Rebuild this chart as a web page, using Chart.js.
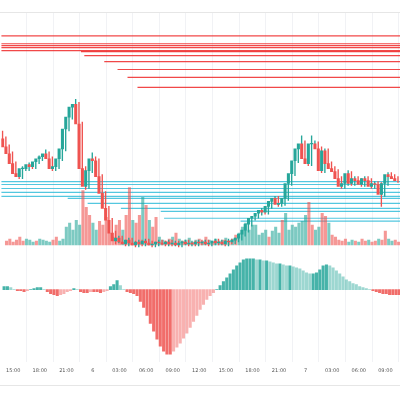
<!DOCTYPE html>
<html>
<head>
<meta charset="UTF-8" />
<script src="https://cdn.jsdelivr.net/npm/chart.js"></script>
<style>
  html, body { margin: 0; background: #fff; }
  #wrap { width: 400px; height: 400px; }
</style>
</head>
<body>
<div id="wrap"><canvas id="c"></canvas></div>
<script>
  // closes, 120 candles (price units)
  const closes = [160,152,145,135,125,122,130,130,134,132,137,140,142,145,140,130,132,140,150,170,
    182,192,195,175,130,112,128,140,138,122,105,90,78,65,57,60,56,54,58,55,
    53,56,54,57,55,53,54,56,55,54,56,54,55,53,55,56,54,55,54,56,
    55,56,54,55,57,55,56,54,57,56,58,60,64,68,74,80,82,85,88,86,
    92,97,100,94,95,100,115,125,138,150,155,140,135,155,155,150,128,148,135,130,
    127,120,112,115,125,115,120,118,114,120,118,112,115,114,104,115,124,122,120,118];
  const firstOpen = 165;
  const wickUp = [3,2,2,2,2,2,2,3,2,2,2,3,2,4,2,2,2,2,3,2,
    3,2,5,2,2,2,2,6,2,2,2,2,2,2,2,2,2,2,2,2,
    2,2,2,2,2,2,2,2,2,2,2,2,2,2,2,2,2,2,2,2,
    2,2,2,2,2,2,2,2,2,2,2,2,2,2,2,2,2,2,2,2,
    2,2,2,2,2,2,4,3,3,3,8,3,2,8,3,2,2,2,2,2,
    2,2,2,2,3,2,2,2,2,2,2,2,2,2,2,2,2,2,2,2];
  const wickDn = [2,2,2,2,2,2,2,2,2,2,2,2,2,2,2,2,2,2,2,2,
    2,2,2,2,4,3,2,2,2,2,2,2,2,2,3,2,2,2,2,2,
    2,2,2,2,2,2,2,2,2,2,2,2,2,2,2,2,2,2,2,2,
    2,2,2,2,2,2,2,2,2,2,2,2,2,2,2,2,2,2,2,2,
    2,2,2,2,2,2,2,2,2,2,2,2,2,2,2,2,2,2,2,2,
    2,2,2,2,2,2,2,2,2,2,2,2,2,2,12,2,2,2,2,2];
  const volumes = [4,6,3,5,8,4,6,5,3,4,6,5,4,3,5,8,4,6,
    18,22,15,25,20,
    55,38,30,22,15,24,20,28,12,8,20,25,15,30,58,25,22,30,48,40,25,18,28,8,
    5,4,6,8,12,6,4,5,7,3,5,6,4,8,5,3,6,4,5,7,4,6,10,
    12,18,22,15,20,20,10,12,15,8,14,18,12,25,32,15,20,18,22,24,30,43,20,15,18,32,29,22,10,8,
    5,4,6,3,5,4,3,6,4,5,3,4,6,5,14,6,4,5,3,4];
  const oscillator = [3,3,2, 0,-1,-1,-2,-1,0,1, 2,2,0, -2,-4,-5,-6,-5,-4,-2,-1, 1,0,
    -2,-3,-3,-2,-2,-2,-3,-2,-1, 3,5,9,4, 0, -2,-3,-4,-6,
    -12,-18,-26,-34,-42,-50,-57,-62,-65,-65,
    -62,-58,-54,-49,-44,-38,-32,-26,-20,-15,-10,-6,-3,0,
    4,8,12,16,20,24,27,30,31,
    31,31,30,30,29,29,28,27,26,26,25,24,24,
    23,22,21,19,17,16,16,17,20,24,25,
    24,22,19,16,13,10,8,6,5,
    3,2,1,0,-1,-2,-3,-4,-4,-5,-5,-5,-5];
  const timeLabels = ['15:00','18:00','21:00','6','03:00','06:00','09:00','12:00','15:00','18:00','21:00','7','03:00','06:00','09:00'];
  const firstLabelAt = 3.6, labelStep = 8;
  // resistance (red) and support (blue) levels: [price, start index]
  const redLevels = [[264,0],[256,0],[254,0],[252,0],[249,0],[248,24],[244,25],[238,31],[230,35],[222,38],[212,41]];
  const blueLevels = [[117,0],[114,0],[110,0],[106,0],[102,0],[100,20],[95,26],[90,36],[87,48],[80,49],[77,72]];

  const up = '#26a69a', dn = '#ef5350';
  const idx = closes.map((_, i) => i + 0.5);
  const opens = closes.map((c, i) => i ? closes[i - 1] : firstOpen);
  const isUp = closes.map((c, i) => c >= opens[i]);

  const levelSet = (lv, color) => lv.map(([p, s]) => ({
    type: 'line', yAxisID: 'y', data: [{x: s, y: p}, {x: 120, y: p}],
    borderColor: color, borderWidth: 1.2, pointRadius: 0, order: 5
  }));

  new Chart(document.getElementById('c'), {
    type: 'bar',
    data: {
      datasets: [
        ...levelSet(redLevels, 'rgba(239,40,40,0.85)'),
        ...levelSet(blueLevels, 'rgba(40,185,215,0.8)'),
        { yAxisID: 'vol', data: idx.map((x, i) => ({x, y: volumes[i]})), barThickness: 2.4,
          backgroundColor: isUp.map(u => u ? 'rgba(38,166,154,0.6)' : 'rgba(239,83,80,0.6)'), order: 4 },
        { yAxisID: 'y', data: idx.map((x, i) => ({x, y: [Math.min(opens[i], closes[i]) - wickDn[i], Math.max(opens[i], closes[i]) + wickUp[i]]})),
          barThickness: 0.7, backgroundColor: isUp.map(u => u ? up : dn), order: 2 },
        { yAxisID: 'y', data: idx.map((x, i) => ({x, y: [opens[i], closes[i] + (closes[i] === opens[i] ? 0.6 : 0)]})),
          barThickness: 2.4, backgroundColor: isUp.map(u => u ? up : dn), order: 1 },
        { yAxisID: 'osc', data: idx.map((x, i) => ({x, y: oscillator[i]})), barThickness: 2.4,
          backgroundColor: oscillator.map((v, i) => {
            const prev = i ? oscillator[i - 1] : v;
            if (v >= 0) return v >= prev ? 'rgba(38,166,154,0.85)' : 'rgba(38,166,154,0.45)';
            return v <= prev ? 'rgba(239,83,80,0.85)' : 'rgba(239,83,80,0.45)';
          }), order: 3 }
      ]
    },
    options: {
      responsive: true, maintainAspectRatio: false, animation: false,
      layout: { padding: { top: 12, bottom: 20, left: 0, right: 0 } },
      plugins: { legend: { display: false }, tooltip: { enabled: false } },
      scales: {
        x: {
          type: 'linear', min: 0, max: 120, offset: false,
          afterBuildTicks: ax => { ax.ticks = timeLabels.map((_, k) => ({value: firstLabelAt + k * labelStep})); },
          ticks: { autoSkip: false, maxRotation: 0, font: { size: 5, family: 'DejaVu Sans' }, color: '#555',
            callback: (v, k) => timeLabels[k], padding: 6 },
          grid: { color: '#f1f2f5', drawTicks: false }, border: { display: false }
        },
        y: { display: false, min: -65, max: 288 },
        vol: { display: false, min: -118, max: 235 },
        osc: { display: false, min: -73, max: 280 }
      }
    },
    plugins: [{
      id: 'frame',
      afterDraw(ch) {
        const g = ch.ctx;
        g.save();
        g.strokeStyle = '#e6e6e6';
        g.lineWidth = 1;
        g.beginPath(); g.moveTo(0, ch.chartArea.top + 0.5); g.lineTo(400, ch.chartArea.top + 0.5);
        g.moveTo(0, 385.5); g.lineTo(400, 385.5); g.stroke();
        g.restore();
      }
    }]
  });
</script>
</body>
</html>
